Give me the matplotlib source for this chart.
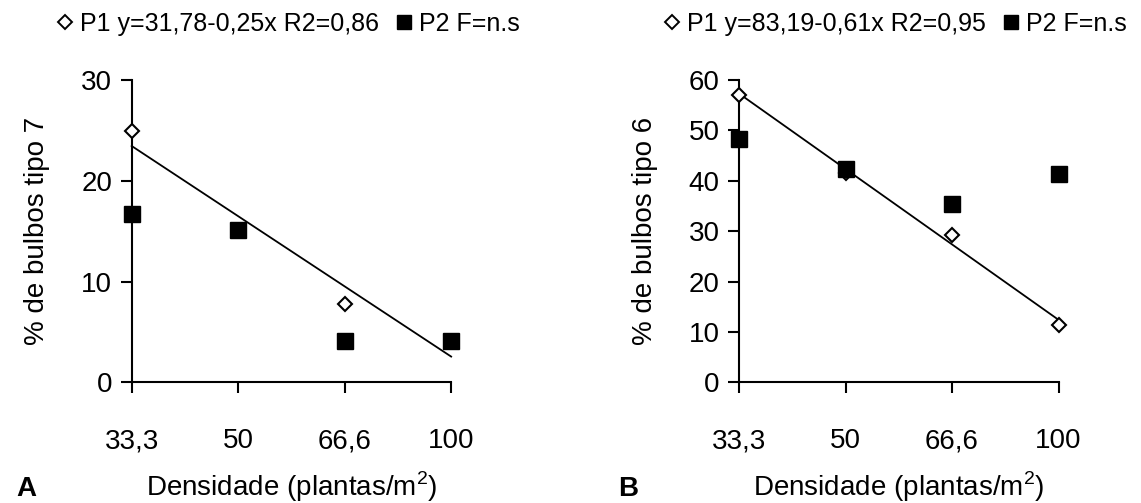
import matplotlib.pyplot as plt
from matplotlib.lines import Line2D
import numpy as np

plt.rcParams['font.family'] = ['Liberation Sans', 'DejaVu Sans']
plt.rcParams['mathtext.fontset'] = 'custom'
plt.rcParams['mathtext.rm'] = 'Liberation Sans'

dens_labels = ['33,3', '50', '66,6', '100']
x = np.arange(len(dens_labels))

# painel A - bulbos tipo 7
p1_a = [24.9, np.nan, 7.8, np.nan]
p2_a = [16.7, 15.1, 4.1, 4.1]
fit_a = [23.45, 2.55]          # reta ajustada, extremos
leg_a = 'P1 y=31,78-0,25x R2=0,86'

# painel B - bulbos tipo 6
p1_b = [57.1, 41.5, 29.2, 11.4]
p2_b = [48.3, 42.3, 35.4, 41.3]
fit_b = [57.3, 12.4]
leg_b = 'P1 y=83,19-0,61x R2=0,95'


def panel(ax, p1, p2, fit, leg_txt, ylabel, ymax, ystep):
	ax.plot([x[0], x[-1]], fit, '-', color='black', lw=1.3, zorder=2, clip_on=False)
	ax.plot(x, p1, 'D', ms=7.5, mfc='white', mec='black', mew=1.5, zorder=3, clip_on=False)
	ax.plot(x, p2, 's', ms=11, color='black', zorder=4, clip_on=False)
	ax.set_xlim(0, 3)
	ax.set_ylim(0, ymax)
	ax.set_xticks(x)
	ax.set_xticklabels(dens_labels)
	ax.set_yticks(np.arange(0, ymax + 1, ystep))
	for s in ['top', 'right']:
		ax.spines[s].set_visible(False)
	for s in ['left', 'bottom']:
		ax.spines[s].set_linewidth(1.5)
	ax.tick_params(axis='both', labelsize=20, width=1.5, length=8, direction='out')
	ax.tick_params(axis='x', pad=25)
	ax.tick_params(axis='y', pad=6)
	ax.set_ylabel(ylabel, fontsize=20)
	ax.yaxis.set_label_coords(-0.255, 0.5)
	hd = [Line2D([], [], ls='', marker='D', ms=6.8, mfc='white', mec='black', mew=1.4),
		  Line2D([], [], ls='', marker='s', ms=10.5, color='black')]
	ax.legend(hd, [leg_txt, 'P2 F=n.s'], ncol=2, frameon=False, fontsize=18,
			  handlelength=0.6, handletextpad=0.3, columnspacing=0.7,
			  loc='center', bbox_to_anchor=(0.49, 1.185))


fig = plt.figure(figsize=(11.41, 5.03), dpi=100)
ax1 = fig.add_axes([0.1154, 0.240, 0.280, 0.601])
ax2 = fig.add_axes([0.6477, 0.240, 0.280, 0.601])

panel(ax1, p1_a, p2_a, fit_a, leg_a, '% de bulbos tipo 7', 30, 10)
panel(ax2, p1_b, p2_b, fit_b, leg_b, '% de bulbos tipo 6', 60, 10)

for ax, letter, lx in [(ax1, 'A', 0.014), (ax2, 'B', 0.542)]:
	fig.text(lx, 0.013, letter, fontsize=20, fontweight='bold', va='baseline')
	fig.text(ax.get_position().x0 + 0.5 * ax.get_position().width, 0.013,
			 r'Densidade (plantas/m$^\mathregular{2}$)', fontsize=20, ha='center', va='baseline')

fig.savefig('out.png', dpi=100)
